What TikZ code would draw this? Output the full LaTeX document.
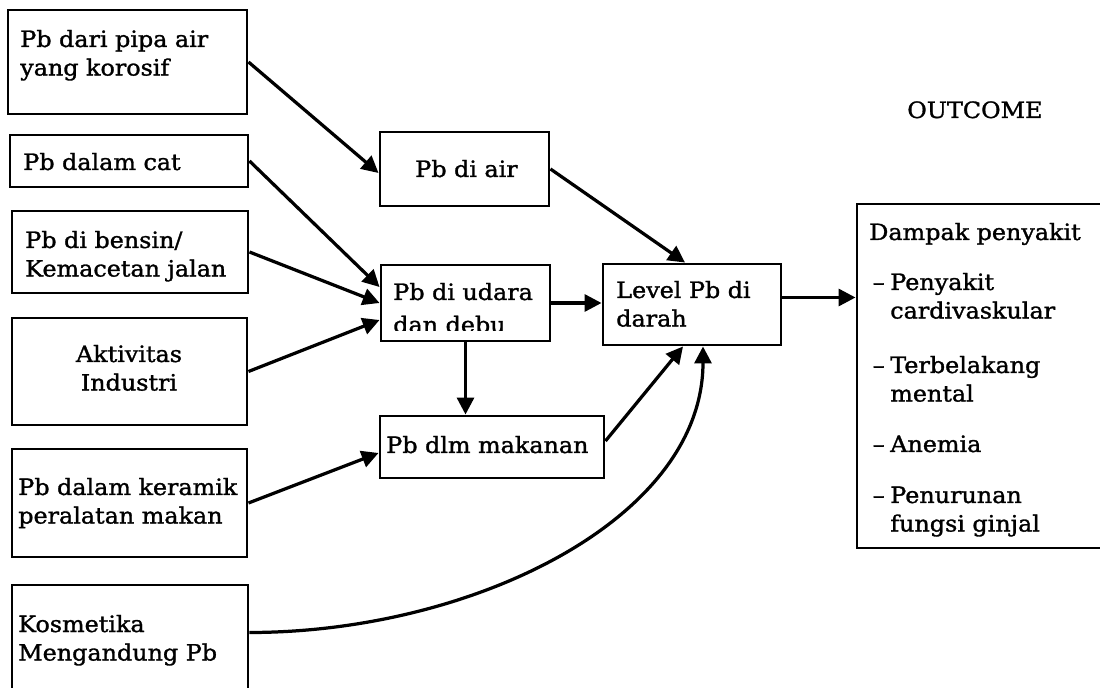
\documentclass[tikz,border=0pt]{standalone}
\usepackage{fontspec}
\setmainfont{DejaVu Serif}[FakeStretch=1.06,FakeBold=1.3]
\usetikzlibrary{arrows.meta,fit}
\begin{document}
\begin{tikzpicture}[x=0.025cm,y=-0.025cm,
  box/.style={draw,line width=2.1pt,inner sep=0pt},
  txt/.style={anchor=base west,inner sep=0pt,text width=7cm,align=left,font=\fontsize{16}{20.3}\selectfont},
  txtc/.style={anchor=base,inner sep=0pt,text width=5cm,align=center,font=\fontsize{16}{20.3}\selectfont},
  arr/.style={line width=2.3pt,-{Triangle[length=0.42cm,width=0.42cm]}}]
\useasboundingbox (0,0) rectangle (1100,688);
\fill[white] (0,0) rectangle (1100,688);
\clip (0,0) rectangle (1100,688);

% left column
\node[box, fit={(8,10) (247,114)}] (A) {};
\node[txt] (tA) at (20,47) {Pb dari pipa air\\yang korosif};
\node[box, fit={(10,135) (248,187)}] (B) {};
\node[txt] (tB) at (23,170) {Pb dalam cat};
\node[box, fit={(12,211) (248,293)}] (C) {};
\node[txt] (tC) at (25,248) {Pb di bensin/\\Kemacetan jalan};
\node[box, fit={(12,318) (247,425)}] (D) {};
\node[txtc] (tD) at (129,362) {Aktivitas\\Industri};
\node[box, fit={(12,449) (247,557)}] (E) {};
\node[txt] (tE) at (18,495) {Pb dalam keramik\\peralatan makan};
\node[box, fit={(12,585) (248,700)}] (F) {};
\node[txt] (tF) at (18,632) {Kosmetika\\Mengandung Pb};

% middle
\node[box, fit={(380,132) (549,206)}] (G) {};
\node[txt] (tG) at (415,177) {Pb di air};
\node[box, fit={(381,265) (550,341)}] (H) {};
\begin{scope}
  \clip (381,265) rectangle (550,331);
  \node[txt] (tH) at (393,300) {Pb di udara\\[3pt]dan debu};
\end{scope}
\node[box, fit={(603,264) (781,345)}] (I) {};
\node[txt] (tI) at (616,298) {Level Pb di\\darah};
\node[box, fit={(380,416) (604,478)}] (J) {};
\node[txt] (tJ) at (386,453) {Pb dlm makanan};

% outcome
\node[txt] (out) at (907,118) {OUTCOME};
\node[box, fit={(857,204) (1110,548)}] (K) {};
\node[txt] (tK) at (869,240) {Dampak penyakit};
\node[txt] (tK1) at (890,290) {\llap{–\hspace{4pt}}Penyakit\\cardivaskular};
\node[txt] (tK2) at (890,373) {\llap{–\hspace{4pt}}Terbelakang\\mental};
\node[txt] (tK3) at (890,452) {\llap{–\hspace{4pt}}Anemia};
\node[txt] (tK4) at (890,503) {\llap{–\hspace{4pt}}Penurunan\\fungsi ginjal};

% connectors
\draw[arr] (A.east) -- ([yshift=-0.1cm]G.west);
\draw[arr] (B.east) -- ([yshift=0.4cm]H.west);
\draw[arr] (C.east) -- (H.west);
\draw[arr] (D.east) -- ([yshift=-0.425cm]H.west);
\draw[arr] (E.east) -- ([yshift=-0.15cm]J.west);
\draw[arr] (H.south) -- (H.south |- J.north);
\draw[arr] (G.east) -- ([xshift=-0.175cm]I.north);
\draw[arr] (H.east) -- (H.east -| I.west);
\draw[arr] ([yshift=0.15cm]J.east) -- ([xshift=-0.225cm]I.south);
\draw[arr] ([yshift=0.25cm]F.east) .. controls +(222,0) and +(0,173) .. ([xshift=0.275cm]I.south);
\draw[arr] ([yshift=0.175cm]I.east) -- ([yshift=0.175cm]I.east -| K.west);
\end{tikzpicture}
\end{document}
